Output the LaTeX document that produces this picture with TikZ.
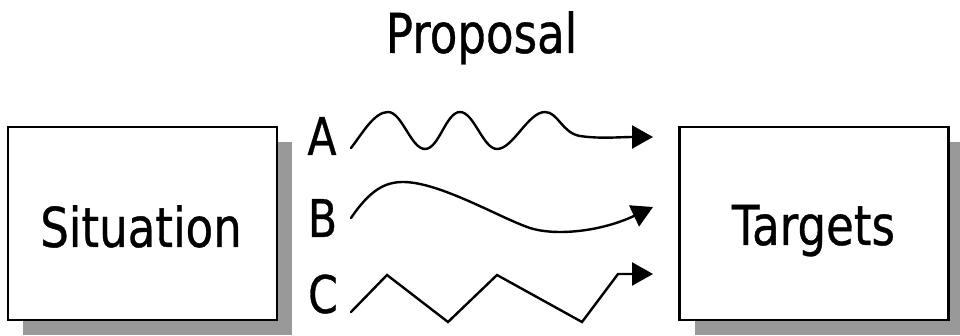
\documentclass[tikz,border=0pt]{standalone}
\usepackage{fontspec}
\setmainfont[FakeStretch=0.82, FakeBold=0.6]{DejaVu Sans}
\usetikzlibrary{arrows.meta}

\tikzset{
  panel/.style={draw=black, line width=2.4pt, fill=white, inner sep=0pt,
    minimum width=269pt, minimum height=193pt},
  shadowbox/.style={fill=black!40, draw=none, inner sep=0pt,
    minimum width=269pt, minimum height=193pt},
  bigtext/.style={font=\fontsize{55}{60}\selectfont, inner sep=0pt, anchor=base},
  lettertext/.style={font=\fontsize{52}{56}\selectfont, inner sep=0pt, anchor=base},
  route/.style={line width=2.4pt, line join=round, line cap=round,
    -{Triangle[length=21pt,width=23pt]}},
}

\begin{document}
\begin{tikzpicture}[x=1pt, y=-1pt]
  \useasboundingbox (0,0) rectangle (960,336);

  % title
  \node[bigtext] (title) at (481.5,53) {Proposal};

  % left and right boxes with drop shadows
  \node[shadowbox] (sitshadow) at (157.5,238.5) {};
  \node[panel] (sit) at (142.5,223.5) {};
  \node[bigtext] (sitlabel) at (141,247) {Situation};

  \node[shadowbox] (tgtshadow) at (829,238.5) {};
  \node[panel] (tgt) at (814,223.5) {};
  \node[bigtext] (tgtlabel) at (813.5,245) {Targets};

  % route letters
  \node[lettertext] (la) at (322,155) {A};
  \node[lettertext] (lb) at (322.5,237) {B};
  \node[lettertext] (lc) at (323,313) {C};

  % route end points
  \coordinate (sa) at (351,148);
  \coordinate (sb) at (351,218);
  \coordinate (sc) at (351,312);
  \coordinate (ea) at (653,137);
  \coordinate (eb) at (653,207);
  \coordinate (ec) at (653,274);

  % route A: wavy
  \draw[route] (sa)
    .. controls (362,134) and (374,112) .. (388,112)
    .. controls (402,112) and (411,149) .. (425,149)
    .. controls (439,149) and (446,112) .. (460,112)
    .. controls (474,112) and (483,149) .. (497,149)
    .. controls (513,149) and (528,112) .. (545,112)
    .. controls (558,112) and (562,133) .. (580,136)
    .. controls (600,139) and (620,137) .. (ea);

  % route B: gentle wave
  \draw[route] (sb)
    .. controls (370,190) and (385,182) .. (403,182)
    .. controls (440,182) and (500,218) .. (530,228)
    .. controls (555,236) and (600,232) .. (eb);

  % route C: zigzag
  \draw[route, line join=miter] (sc) -- (387,275) -- (448,322) -- (497,275)
    -- (582,322) -- (618,274) -- (ec);
\end{tikzpicture}
\end{document}
